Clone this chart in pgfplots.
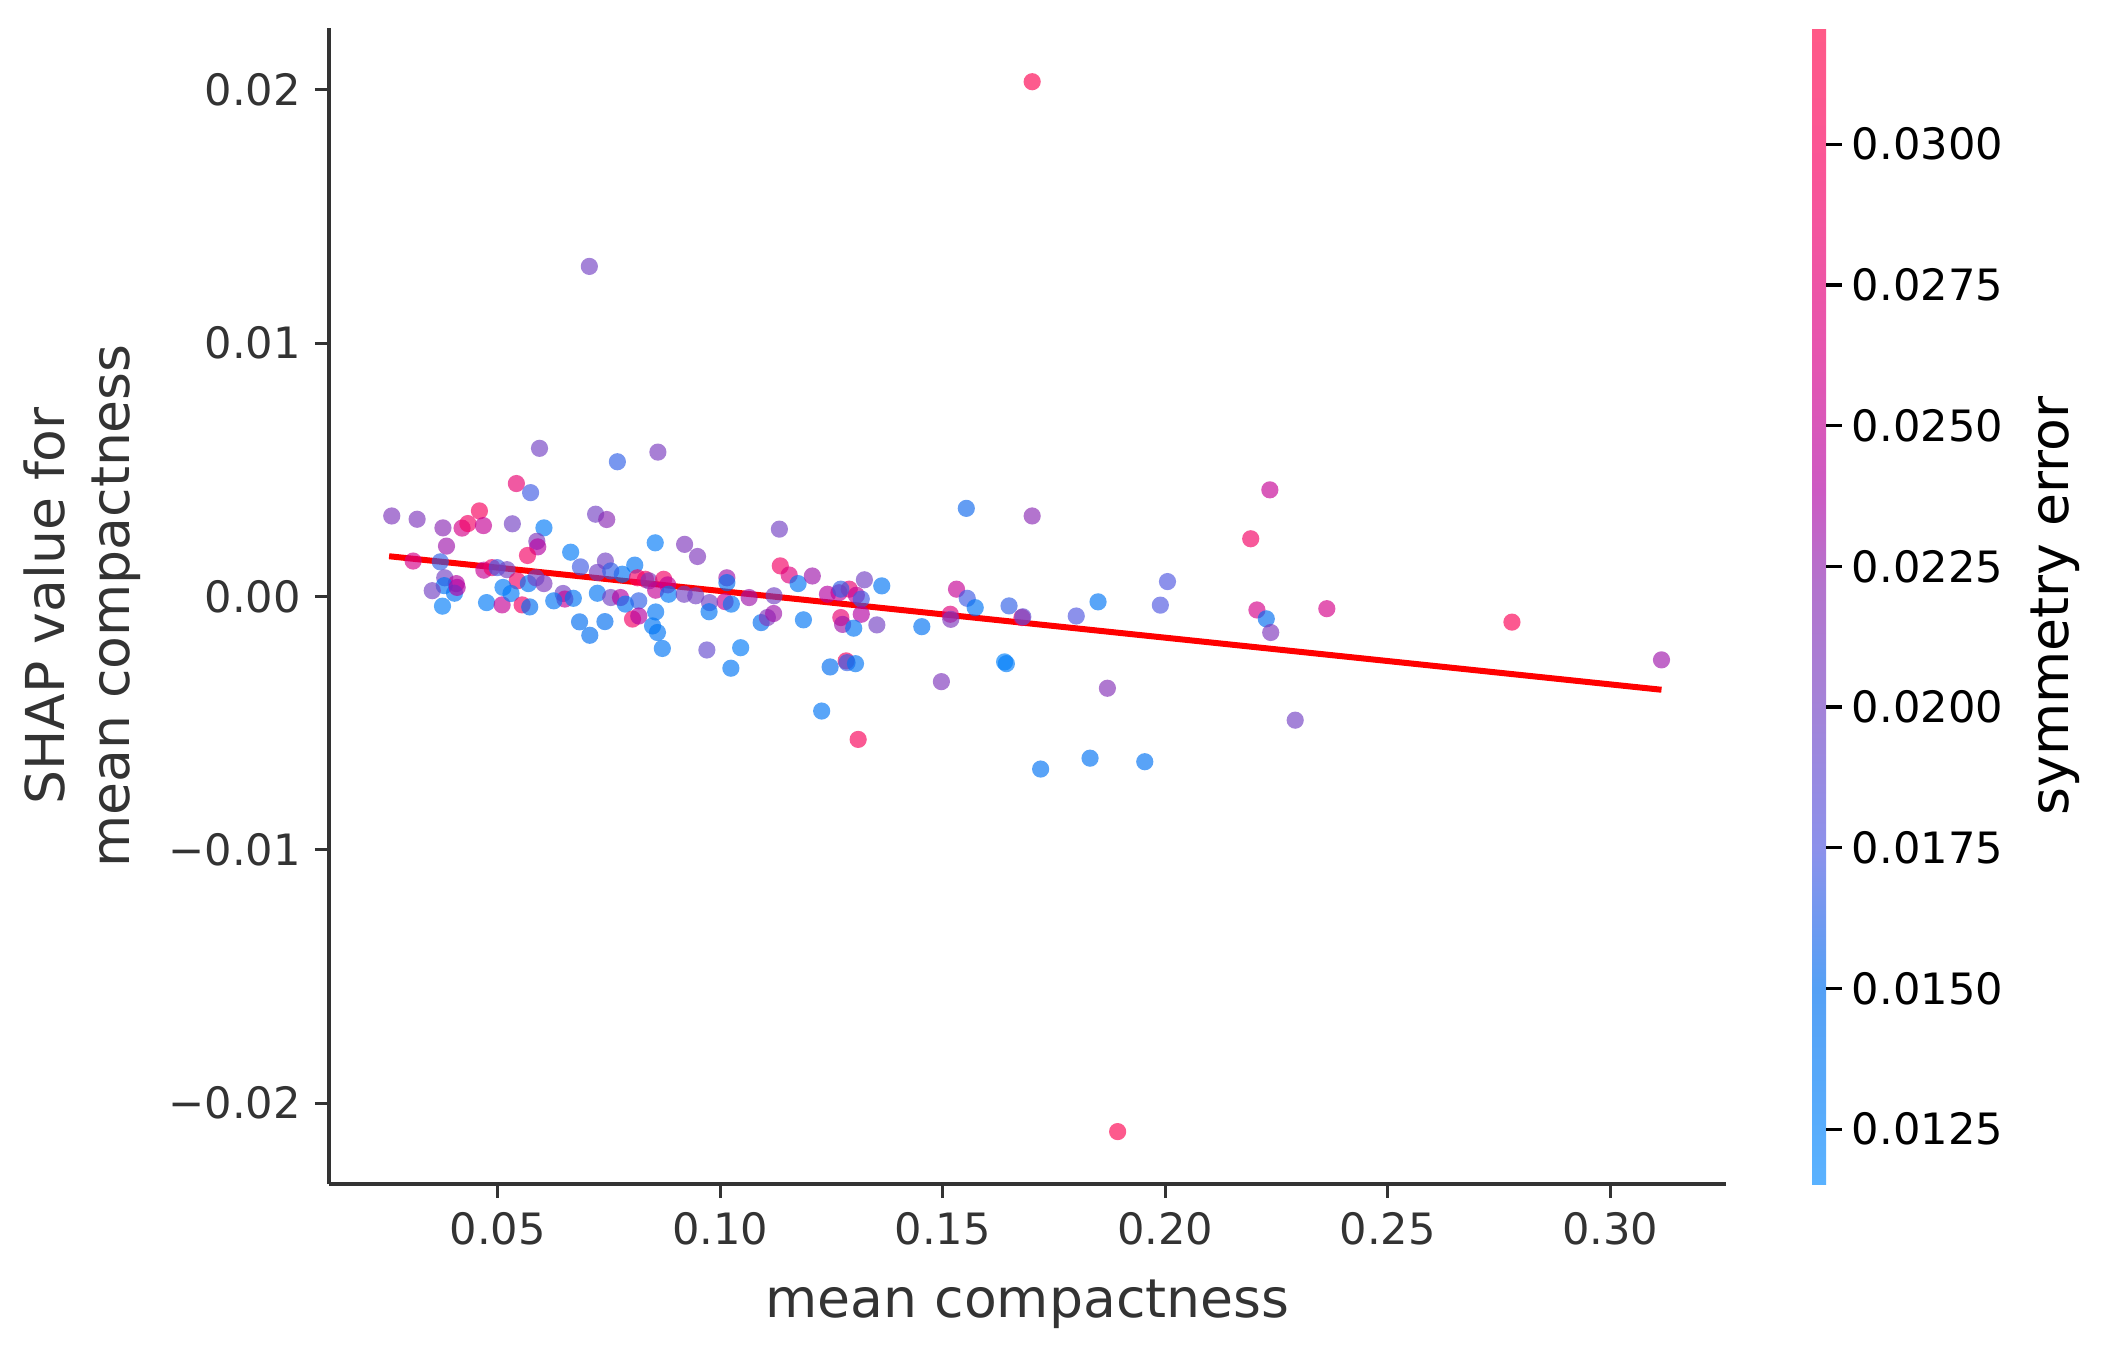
\documentclass[border=0pt]{standalone}
\usepackage{pgfplots}
\pgfplotsset{compat=1.18}
\usepackage{fontspec}
\setmainfont{DejaVu Sans}
\definecolor{dg}{HTML}{333333}
\pgfplotsset{
  colormap={shapdisp}{rgb255(0pt)=(90,178,255); rgb255(17pt)=(85,160,245); rgb255(29pt)=(140,145,235); rgb255(42pt)=(165,130,215); rgb255(52pt)=(180,115,205); rgb255(60pt)=(205,90,195); rgb255(72pt)=(230,85,175); rgb255(88pt)=(250,85,150); rgb255(100pt)=(255,90,135)},
  colormap={shapraw}{rgb255(0pt)=(1,137,255); rgb255(17pt)=(0,109,240); rgb255(29pt)=(78,86,224); rgb255(42pt)=(117,63,193); rgb255(52pt)=(140,40,178); rgb255(60pt)=(178,1,163); rgb255(72pt)=(217,0,132); rgb255(88pt)=(247,0,93); rgb255(100pt)=(255,1,70)}
}
% c = symmetry error x 1000
\pgfplotstableread{
x y c
0.1701 0.02032 31.0
0.0706 0.01303 20.0
0.1893 -0.02112 31.0
0.0594 0.00585 20.0
0.0542 0.00446 28.0
0.0574 0.00410 17.0
0.0262 0.00318 21.0
0.0319 0.00305 21.0
0.0459 0.00338 29.5
0.0377 0.00271 22.0
0.0420 0.00270 26.0
0.0433 0.00288 29.0
0.0468 0.00280 25.0
0.0533 0.00287 20.0
0.0604 0.00271 13.5
0.0385 0.00199 23.0
0.0588 0.00218 21.0
0.0590 0.00196 24.0
0.0567 0.00162 29.0
0.0664 0.00175 13.5
0.0310 0.00140 26.0
0.0371 0.00137 16.5
0.0469 0.00104 25.0
0.0487 0.00114 28.5
0.0499 0.00114 17.0
0.0521 0.00106 20.0
0.0544 0.00062 29.0
0.0569 0.00051 14.0
0.0604 0.00051 21.0
0.0381 0.00074 20.0
0.0407 0.00051 24.0
0.0380 0.00043 14.0
0.0353 0.00023 20.0
0.0403 0.00013 14.0
0.0409 0.00036 24.0
0.0376 -0.00038 13.0
0.0475 -0.00024 13.5
0.0510 -0.00033 25.0
0.0512 0.00036 13.5
0.0530 0.00012 13.5
0.0555 -0.00033 29.0
0.0572 -0.00041 15.0
0.0586 0.00074 20.0
0.0647 0.00012 20.0
0.0651 -0.00010 25.0
0.0670 -0.00007 14.0
0.0626 -0.00017 14.0
0.0684 -0.00100 15.0
0.0686 0.00117 17.0
0.0769 0.00532 16.5
0.0860 0.00570 20.5
0.0720 0.00325 20.0
0.0745 0.00304 22.0
0.0854 0.00212 13.5
0.0920 0.00206 21.0
0.0949 0.00158 21.0
0.0742 0.00140 20.0
0.0724 0.00095 20.0
0.0808 0.00124 14.0
0.0780 0.00088 14.0
0.0754 0.00101 16.5
0.0814 0.00074 29.0
0.0832 0.00068 29.0
0.0840 0.00062 21.0
0.0873 0.00068 29.0
0.0882 0.00046 25.0
0.0855 0.00025 25.0
0.0884 0.00009 13.5
0.0919 0.00009 20.0
0.0945 0.00003 20.0
0.1015 0.00074 23.0
0.1015 0.00055 15.0
0.1011 -0.00020 25.0
0.1025 -0.00030 14.0
0.0976 -0.00024 20.0
0.0975 -0.00060 14.0
0.0724 0.00013 14.0
0.0754 -0.00004 20.0
0.0776 -0.00004 24.0
0.0787 -0.00030 14.0
0.0817 -0.00017 16.5
0.0803 -0.00089 29.0
0.0817 -0.00077 24.0
0.0855 -0.00061 14.0
0.0848 -0.00116 14.0
0.0859 -0.00142 14.0
0.0707 -0.00153 15.0
0.0741 -0.00099 15.0
0.0870 -0.00205 14.0
0.0970 -0.00211 19.0
0.1046 -0.00202 13.5
0.1024 -0.00283 14.0
0.1092 -0.00103 15.0
0.1106 -0.00083 21.0
0.1120 -0.00067 23.0
0.1065 -0.00004 23.0
0.1121 0.00003 20.0
0.1133 0.00266 20.0
0.1135 0.00121 29.0
0.1155 0.00085 27.0
0.1175 0.00051 14.0
0.1207 0.00081 23.0
0.1553 0.00348 15.5
0.1324 0.00066 20.0
0.1363 0.00042 14.0
0.1241 0.00009 24.0
0.1267 0.00015 25.0
0.1290 0.00029 28.0
0.1271 0.00029 16.5
0.1306 0.00005 25.0
0.1317 -0.00010 17.0
0.1317 -0.00070 24.0
0.1271 -0.00083 28.0
0.1275 -0.00110 23.0
0.1300 -0.00125 14.0
0.1352 -0.00112 20.0
0.1187 -0.00092 14.0
0.1453 -0.00119 14.5
0.1517 -0.00070 27.0
0.1518 -0.00090 21.0
0.1531 0.00029 25.0
0.1555 -0.00007 17.0
0.1573 -0.00044 14.0
0.1247 -0.00278 15.0
0.1283 -0.00254 29.5
0.1285 -0.00261 16.5
0.1304 -0.00265 14.0
0.1497 -0.00336 21.0
0.1228 -0.00452 14.0
0.1310 -0.00564 30.0
0.1701 0.00318 22.0
0.1649 -0.00037 16.5
0.1678 -0.00083 29.0
0.1680 -0.00080 18.5
0.1800 -0.00077 17.5
0.1849 -0.00021 14.0
0.1989 -0.00034 17.5
0.2005 0.00059 17.5
0.1639 -0.00258 12.5
0.1643 -0.00265 13.0
0.1870 -0.00362 21.5
0.1720 -0.00681 14.5
0.1831 -0.00638 14.5
0.1954 -0.00652 14.5
0.2235 0.00421 25.0
0.2192 0.00228 29.0
0.2206 -0.00053 26.0
0.2227 -0.00088 15.0
0.2237 -0.00142 21.0
0.2292 -0.00488 20.0
0.2363 -0.00048 26.0
0.2779 -0.00101 30.5
0.3115 -0.00250 23.0
}\shapdata
\begin{document}
\begin{tikzpicture}
\begin{axis}[
  name=main,
  width=349.25pt, height=289pt, scale only axis,
  xmin=0.0121, xmax=0.3260, ymin=-0.02319, ymax=0.02244,
  axis lines=left, axis line style={-, dg, line width=0.8pt},
  tick align=outside, major tick length=3.5pt,
  tick style={dg, line width=0.8pt},
  scaled ticks=false,
  xtick={0.05,0.10,0.15,0.20,0.25,0.30},
  xticklabels={0.05,0.10,0.15,0.20,0.25,0.30},
  ytick={-0.02,-0.01,0,0.01,0.02},
  yticklabels={−0.02,−0.01,0.00,0.01,0.02},
  tick label style={font=\fontsize{10.8}{13}\selectfont, text=dg},
  xlabel={mean compactness},
  ylabel={SHAP value for\\mean compactness},
  xlabel style={font=\fontsize{13.4}{16}\selectfont, text=dg, yshift=-1.8pt},
  ylabel style={font=\fontsize{13.4}{16.25}\selectfont, text=dg, align=center},
  colormap name=shapdisp,
  point meta min=11.527, point meta max=32.064,
  colorbar,
  colorbar style={
    at={(parent axis.north east)}, anchor=north west, xshift=13pt,
    width=3.5pt,
    axis line style={draw=none},
    ytick={12.5,15,17.5,20,22.5,25,27.5,30},
    yticklabels={0.0125,0.0150,0.0175,0.0200,0.0225,0.0250,0.0275,0.0300},
    scaled y ticks=false,
    ytick pos=right, yticklabel pos=right,
    tick align=outside, major tick length=3.9pt,
    tick style={black, line width=0.8pt},
    yticklabel style={font=\fontsize{10.8}{13}\selectfont, text=black, xshift=-1pt},
    ylabel={symmetry error}, ylabel near ticks,
    ylabel style={font=\fontsize{13.4}{16}\selectfont, text=black},
  },
]
\addplot[scatter, only marks, mark=*, mark size=2.15pt, colormap name=shapraw,
  point meta=explicit,
  scatter/use mapped color={draw=mapped color, fill=mapped color},
  mark options={fill opacity=0.65, draw opacity=0}]
  table[x=x, y=y, meta=c] {\shapdata};
\addplot[red, line width=1.5pt] coordinates {(0.0256,0.00159) (0.3115,-0.00368)};
\end{axis}
\path ([xshift=-82.25pt,yshift=-43.25pt]main.south west) rectangle ([xshift=96.75pt,yshift=7pt]main.north east);
\end{tikzpicture}
\end{document}
